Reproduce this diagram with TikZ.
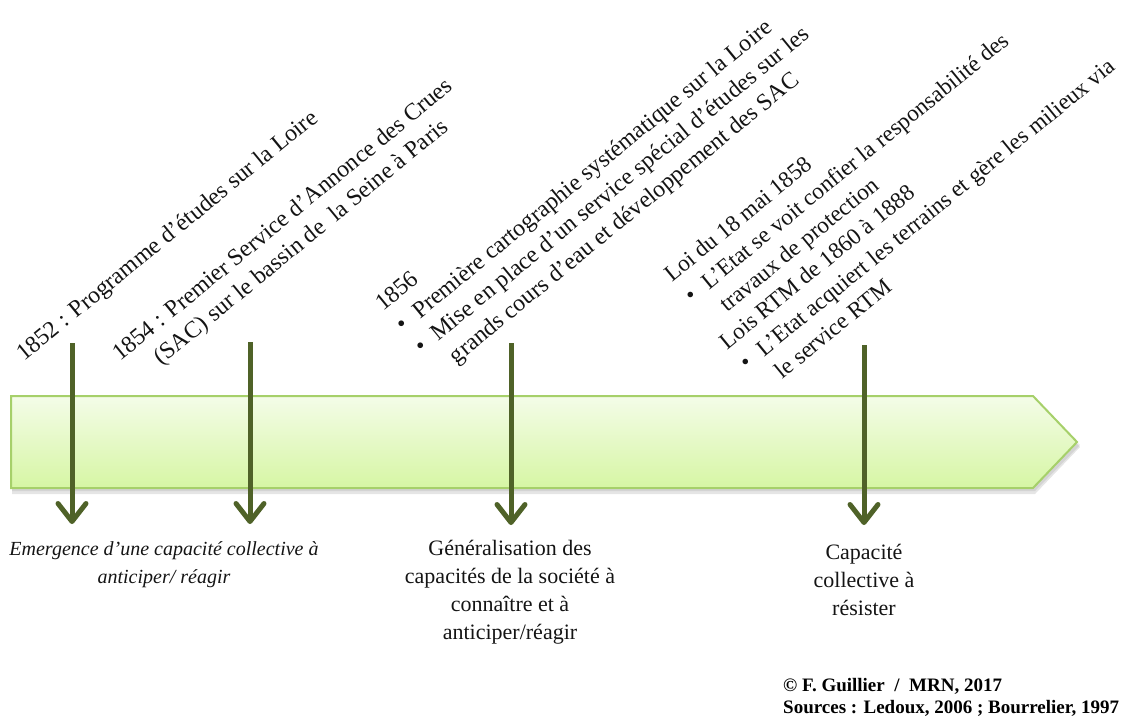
\documentclass[tikz,border=0pt]{standalone}
\usepackage{fontspec}
\setmainfont{Liberation Serif}
\usetikzlibrary{arrows.meta}
\definecolor{arrowgreen}{RGB}{79,98,40}
\definecolor{bartop}{RGB}{244,252,232}
\definecolor{barbot}{RGB}{214,246,164}
\definecolor{barline}{RGB}{166,208,106}
\definecolor{txt}{RGB}{20,20,20}
\newcommand{\evbul}{\makebox[24pt][l]{\hspace{3pt}•}}
\newcommand{\evind}{\hspace*{24pt}}
\begin{document}
\begin{tikzpicture}[x=1pt,y=-1pt,
  evt/.style={inner sep=0pt, anchor=base west, rotate=39.3, text=txt, font=\fontsize{23.8}{29}\selectfont},
  lbl/.style={inner sep=0pt, anchor=base, text=txt, font=\fontsize{22}{28}\selectfont},
  lbli/.style={inner sep=0pt, anchor=base, text=txt, font=\fontsize{20}{28}\selectfont\itshape},
  credit/.style={inner sep=0pt, anchor=base west, text=black, font=\fontsize{19}{22.5}\selectfont\bfseries},
  downarrow/.style={draw=arrowgreen, line width=5pt, line join=round,
    -{Straight Barb[length=18pt,width=28pt,round]}},
]
\useasboundingbox (0,0) rectangle (1123,718);
% timeline bar
\fill[black, opacity=0.10] (12,400) -- (1035,400) -- (1080,447) -- (1035,494) -- (12,494) -- cycle;
\fill[black, opacity=0.08] (12,398) -- (1035,398) -- (1080,445) -- (1035,491) -- (12,491) -- cycle;
\path[draw=barline, line width=2pt, top color=bartop, bottom color=barbot]
  (11,396) -- (1033,396) -- (1077,442) -- (1033,488) -- (11,488) -- cycle;
% arrows
\coordinate (a1top) at (72,343);  \coordinate (a1tip) at (72,524);
\coordinate (a2top) at (250,342); \coordinate (a2tip) at (250,524);
\coordinate (a3top) at (511,343); \coordinate (a3tip) at (511,525);
\coordinate (a4top) at (864,345); \coordinate (a4tip) at (864,525);
\draw[downarrow] (a1top) -- (a1tip);
\draw[downarrow] (a2top) -- (a2tip);
\draw[downarrow] (a3top) -- (a3tip);
\draw[downarrow] (a4top) -- (a4tip);
% rotated event texts
\node[evt] (ev1) at (24,362) {1852 : Programme d'études sur la Loire};
\node[evt] (ev2) at (120,362) {\begin{tabular}[t]{@{}c@{}}1854 : Premier Service d'Annonce des Crues\\ (SAC) sur le bassin de\ \ la Seine à Paris\end{tabular}};
\node[evt] (ev3) at (383,312) {\begin{tabular}[t]{@{}l@{}}1856\\ \evbul Première cartographie systématique sur la Loire\\ \evbul Mise en place d'un service spécial d'études sur les\\ \evind grands cours d'eau et développement des SAC\end{tabular}};
\node[evt, font=\fontsize{23.2}{29}\selectfont] (ev4) at (672,283) {\begin{tabular}[t]{@{}l@{}}Loi du 18 mai 1858\\ \evbul L'Etat se voit confier la responsabilité des\\ \evind travaux de protection\\ Lois RTM de 1860 à 1888\\ \evbul L'Etat acquiert les terrains et gère les milieux via\\ \evind le service RTM\end{tabular}};
% outcome labels
\node[lbli] (out1) at (164,555) {\begin{tabular}[t]{@{}c@{}}Emergence d'une capacité collective à\\ anticiper/ réagir\end{tabular}};
\node[lbl] (out2) at (510,555) {\begin{tabular}[t]{@{}c@{}}Généralisation des\\ capacités de la société à\\ connaître et à\\ anticiper/réagir\end{tabular}};
\node[lbl] (out3) at (864,559) {\begin{tabular}[t]{@{}c@{}}Capacité\\ collective à\\ résister\end{tabular}};
% credits
\node[credit] (cred) at (783,691) {\begin{tabular}[t]{@{}l@{}}© F. Guillier\ \ /\ \ MRN, 2017\\ Sources : Ledoux, 2006 ; Bourrelier, 1997\end{tabular}};
\end{tikzpicture}
\end{document}
